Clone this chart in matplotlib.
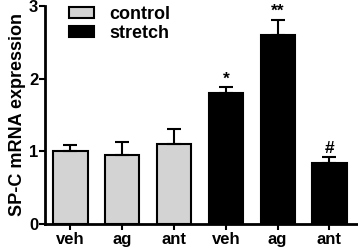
import matplotlib
matplotlib.use("Agg")
import matplotlib.pyplot as plt
from matplotlib.patches import Patch

plt.rcParams['font.family'] = ['Liberation Sans', 'DejaVu Sans']
plt.rcParams['font.weight'] = 'bold'

groups = ["control", "stretch"]
tick_labels = ["veh", "ag", "ant", "veh", "ag", "ant"]
control_vals = [1.0, 0.95, 1.10]
control_err = [0.08, 0.18, 0.21]
stretch_vals = [1.80, 2.60, 0.835]
stretch_err = [0.08, 0.21, 0.09]
marks = ["*", "**", "#"]

colors = {"control": "#d3d3d3", "stretch": "#000000"}

fig = plt.figure(figsize=(3.58, 2.5), dpi=100)
ax = fig.add_axes([0.126, 0.105, 0.871, 0.871])

xc = [0, 1, 2]
xs = [3, 4, 5]
w = 0.66
ekw = dict(elinewidth=1.5, capthick=1.5, ecolor='black')
ax.bar(xc, control_vals, width=w, color=colors["control"], edgecolor='black', linewidth=1.5,
       yerr=[[0]*3, control_err], capsize=5, error_kw=ekw, label="control", zorder=2)
ax.bar(xs, stretch_vals, width=w, color=colors["stretch"], edgecolor='black', linewidth=1.5,
       yerr=[[0]*3, stretch_err], capsize=5, error_kw=ekw, label="stretch", zorder=2)

for x, v, e, m in zip(xs, stretch_vals, stretch_err, marks):
    ax.text(x, v + e + 0.01, m, ha='center', va='bottom', fontsize=12.5, fontweight='bold')

ax.set_xlim(-0.49, 5.53)
ax.set_ylim(0, 3)
ax.set_yticks([0, 1, 2, 3])
ax.set_xticks(xc + xs)
ax.set_xticklabels(tick_labels, fontsize=12, fontweight='bold')
ax.tick_params(axis='y', labelsize=12, width=1.5, length=4, pad=1)
ax.tick_params(axis='x', width=1.5, length=4, pad=2)
for s in ['top', 'right']:
    ax.spines[s].set_visible(False)
for s in ['left', 'bottom']:
    ax.spines[s].set_linewidth(2)
ax.set_ylabel("SP-C mRNA expression", fontsize=13, fontweight='bold', labelpad=2)

handles = [Patch(facecolor=colors[g], edgecolor='black', linewidth=1.5, label=g) for g in groups]
ax.legend(handles=handles, loc='upper left', bbox_to_anchor=(0.025, 1.075), frameon=False,
          fontsize=13, handlelength=1.4, handleheight=0.6, handletextpad=0.8, labelspacing=0.12)

fig.savefig("out.png", dpi=100)
